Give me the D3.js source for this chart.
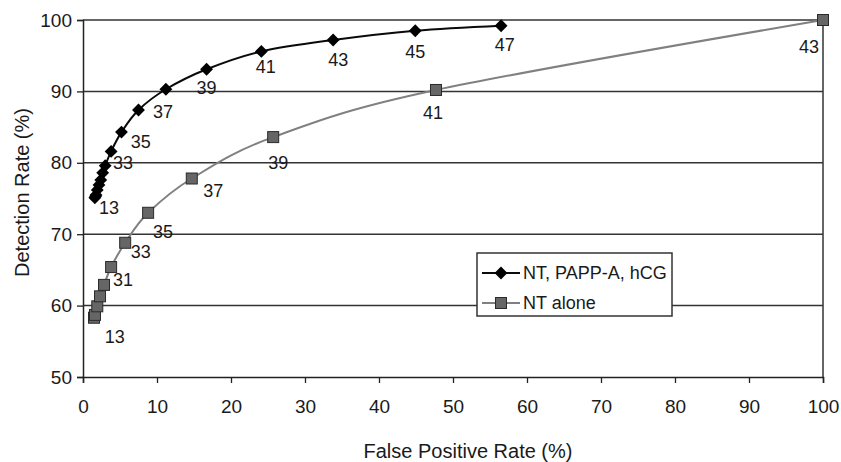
<!DOCTYPE html>
<html>
<head>
<meta charset="utf-8">
<script src="https://cdn.jsdelivr.net/npm/d3@7"></script>
<style>
  body { margin: 0; background: #fff; }
  text { font-family: "Liberation Sans", Arial, sans-serif; fill: #1a1a1a; }
</style>
</head>
<body>
<div id="chart"></div>
<script>
// series values (false positive %, detection %)
var comboX = [1.6, 1.7, 1.76, 1.93, 2.16, 2.4, 2.66, 3.0, 3.8, 5.2, 7.5, 11.2, 16.7, 24.1, 33.8, 44.9, 56.5];
var comboY = [75.1, 75.3, 75.5, 76.2, 76.9, 77.6, 78.6, 79.6, 81.6, 84.3, 87.4, 90.3, 93.1, 95.6, 97.2, 98.5, 99.2];

var ntX = [1.49, 1.62, 1.93, 2.3, 2.84, 3.8, 5.7, 8.8, 14.7, 25.7, 47.7, 100];
var ntY = [58.3, 58.7, 59.9, 61.3, 62.9, 65.4, 68.8, 73.0, 77.8, 83.6, 90.2, 100];

// data labels (text and where they sit, in data units)
var comboLabels = ["13", "33", "35", "37", "39", "41", "43", "45", "47"];
var comboLabelX = [3.5, 5.4, 7.8, 10.8, 16.7, 24.7, 34.5, 44.9, 57.0];
var comboLabelY = [73.7, 80.0, 82.9, 87.1, 90.5, 93.4, 94.4, 95.5, 96.5];

var ntLabels = ["13", "31", "33", "35", "37", "39", "41", "43"];
var ntLabelX = [4.3, 5.4, 7.8, 10.8, 17.6, 26.4, 47.3, 98.1];
var ntLabelY = [55.7, 63.6, 67.6, 70.4, 76.1, 80.0, 87.0, 96.2];

var xTicks = [0, 10, 20, 30, 40, 50, 60, 70, 80, 90, 100];
var yTicks = [50, 60, 70, 80, 90, 100];
var seriesNames = ["NT, PAPP-A, hCG", "NT alone"];

var margin = { top: 20, right: 18, bottom: 85, left: 83 },
    width = 841 - margin.left - margin.right,
    height = 462 - margin.top - margin.bottom;

var svg = d3.select("#chart")
    .append("svg")
    .attr("width", 841)
    .attr("height", 462)
    .append("g")
    .attr("transform", "translate(" + margin.left + "," + margin.top + ")");

var x = d3.scaleLinear().domain([0, 100]).range([0, width]);
var y = d3.scaleLinear().domain([50, 100]).range([height, 0]);

// horizontal gridlines
svg.append("g")
    .selectAll("line")
    .data(yTicks.filter(function (d) { return d > 50; }))
    .enter()
    .append("line")
    .attr("x1", 0)
    .attr("x2", width)
    .attr("y1", function (d) { return y(d); })
    .attr("y2", function (d) { return y(d); })
    .attr("stroke", "#333")
    .attr("stroke-width", 1.5);

// right border
svg.append("line")
    .attr("x1", width).attr("x2", width)
    .attr("y1", 0).attr("y2", height)
    .attr("stroke", "#333")
    .attr("stroke-width", 1.5);

// X axis
var xAxis = svg.append("g")
    .attr("transform", "translate(0," + height + ")")
    .call(d3.axisBottom(x).tickValues(xTicks).tickSize(6).tickPadding(17));
// Y axis
var yAxis = svg.append("g")
    .call(d3.axisLeft(y).tickValues(yTicks).tickSize(6).tickPadding(5));

[xAxis, yAxis].forEach(function (a) {
    a.select(".domain").attr("stroke", "#222").attr("stroke-width", 1.5);
    a.selectAll(".tick line").attr("stroke", "#222").attr("stroke-width", 1.3);
    a.selectAll(".tick text")
        .style("font-size", "19px")
        .style("font-family", "'Liberation Sans', Arial, sans-serif")
        .attr("fill", "#1a1a1a");
});

// axis titles
svg.append("text")
    .attr("text-anchor", "middle")
    .attr("x", width / 2 + 15)
    .attr("y", height + 81)
    .style("font-size", "20px")
    .text("False Positive Rate (%)");

svg.append("text")
    .attr("text-anchor", "middle")
    .attr("transform", "rotate(-90)")
    .attr("x", -(height / 2) + 6)
    .attr("y", -margin.left + 29)
    .style("font-size", "20px")
    .text("Detection Rate (%)");

var line = d3.line()
    .x(function (d) { return x(d[0]); })
    .y(function (d) { return y(d[1]); })
    .curve(d3.curveCardinal.tension(0));

var ntData = d3.zip(ntX, ntY);
var comboData = d3.zip(comboX, comboY);

// NT alone (grey)
svg.append("path")
    .datum(ntData)
    .attr("fill", "none")
    .attr("stroke", "#808080")
    .attr("stroke-width", 2)
    .attr("d", line);

// NT, PAPP-A, hCG (black)
svg.append("path")
    .datum(comboData)
    .attr("fill", "none")
    .attr("stroke", "#0a0a0a")
    .attr("stroke-width", 2)
    .attr("d", line);

var sq = 11;
svg.append("g")
    .selectAll("rect")
    .data(ntData)
    .enter()
    .append("rect")
    .attr("x", function (d) { return x(d[0]) - sq / 2; })
    .attr("y", function (d) { return y(d[1]) - sq / 2; })
    .attr("width", sq)
    .attr("height", sq)
    .attr("fill", "#666")
    .attr("stroke", "#2a2a2a")
    .attr("stroke-width", 1);

var diamond = d3.symbol().type(d3.symbolDiamond2).size(105);
svg.append("g")
    .selectAll("path")
    .data(comboData)
    .enter()
    .append("path")
    .attr("d", diamond)
    .attr("transform", function (d) { return "translate(" + x(d[0]) + "," + y(d[1]) + ")"; })
    .attr("fill", "#000");

// data labels
function addLabels(texts, lx, ly) {
    svg.append("g")
        .selectAll("text")
        .data(texts)
        .enter()
        .append("text")
        .attr("x", function (d, i) { return x(lx[i]); })
        .attr("y", function (d, i) { return y(ly[i]); })
        .attr("text-anchor", "middle")
        .attr("dy", "0.35em")
        .style("font-size", "18px")
        .text(function (d) { return d; });
}
addLabels(comboLabels, comboLabelX, comboLabelY);
addLabels(ntLabels, ntLabelX, ntLabelY);

// legend
var legend = svg.append("g")
    .attr("transform", "translate(" + (477 - margin.left) + "," + (253 - margin.top) + ")");

legend.append("rect")
    .attr("width", 195)
    .attr("height", 63)
    .attr("fill", "#fff")
    .attr("stroke", "#333")
    .attr("stroke-width", 1.5);

legend.selectAll(".entry")
    .data(seriesNames)
    .enter()
    .append("g")
    .attr("class", "entry")
    .attr("transform", function (d, i) { return "translate(0," + (20 + i * 30) + ")"; })
    .each(function (d, i) {
        var g = d3.select(this);
        g.append("line")
            .attr("x1", 5).attr("x2", 43)
            .attr("stroke", i === 0 ? "#0a0a0a" : "#808080")
            .attr("stroke-width", 2);
        if (i === 0) {
            g.append("path").attr("d", diamond).attr("transform", "translate(24,0)").attr("fill", "#000");
        } else {
            g.append("rect")
                .attr("x", 24 - sq / 2).attr("y", -sq / 2)
                .attr("width", sq).attr("height", sq)
                .attr("fill", "#666").attr("stroke", "#2a2a2a");
        }
        g.append("text")
            .attr("x", 46)
            .attr("dy", "0.35em")
            .style("font-size", "18px")
            .text(d);
    });
</script>
</body>
</html>
